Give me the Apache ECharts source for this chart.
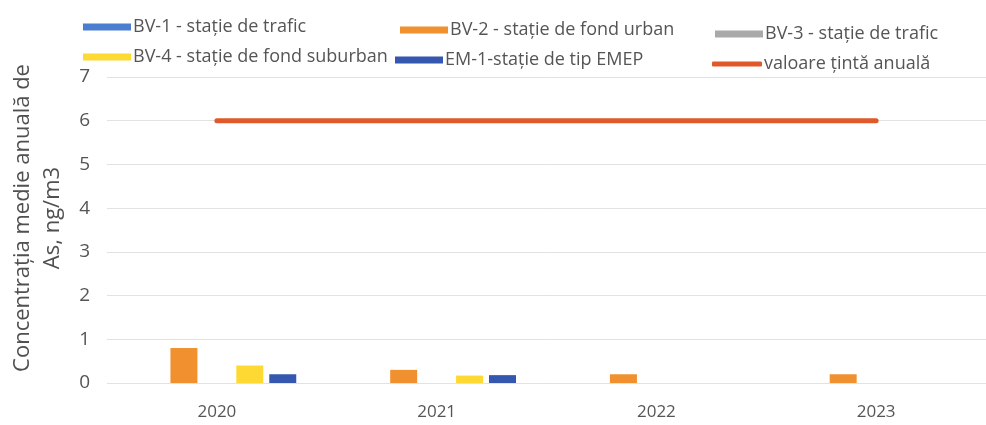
<!DOCTYPE html>
<html>
<head>
<meta charset="utf-8">
<script src="https://cdn.jsdelivr.net/npm/echarts@6/dist/echarts.min.js"></script>
<style>
  html, body { margin: 0; padding: 0; background: #fff; }
  #chart { width: 986px; height: 425px; }
</style>
</head>
<body>
<div id="chart"></div>
<script>
const years = ['2020', '2021', '2022', '2023']
const bv1 = [null, null, null, null]
const bv2 = [0.8, 0.3, 0.2, 0.2]
const bv3 = [null, null, null, null]
const bv4 = [0.4, 0.17, null, null]
const em1 = [0.2, 0.18, null, null]
const target = [6, 6, 6, 6]
const yTicks = [0, 7, 1]

const names = {
  bv1: 'BV-1 - stație de trafic',
  bv2: 'BV-2 - stație de fond urban',
  bv3: 'BV-3 - stație de trafic',
  bv4: 'BV-4 - stație de fond suburban',
  em1: 'EM-1-stație de tip EMEP',
  target: 'valoare țintă anuală',
}

const colors = {
  bv1: '#4a7fd0',
  bv2: '#f0902e',
  bv3: '#a9a9a9',
  bv4: '#ffd933',
  em1: '#3557b0',
  target: '#e0592a',
}

const font = '"Open Sans", sans-serif'
const textColor = '#555555'

const legendAt = (name, left, top, isLine) => ({
  data: [name],
  left,
  top,
  itemWidth: isLine ? 50 : 48,
  itemHeight: isLine ? 5 : 7,
  icon: isLine ? 'roundRect' : 'rect',
  itemGap: 2,
  textStyle: { fontFamily: font, fontSize: 18, color: textColor, padding: [0, 0, 0, -3] },
})

const barSeries = (key, data) => ({
  name: names[key],
  type: 'bar',
  data,
  barWidth: 27,
  barGap: '22%',
  itemStyle: { color: colors[key] },
})

const chart = echarts.init(document.getElementById('chart'))
chart.setOption({
  animation: false,
  legend: [
    legendAt(names.bv1, 78, 13),
    legendAt(names.bv2, 395, 16),
    legendAt(names.bv3, 710, 20),
    legendAt(names.bv4, 78, 43),
    legendAt(names.em1, 390, 46),
    legendAt(names.target, 707, 50, true),
  ],
  grid: { left: 107, right: 0, top: 77, bottom: 42 },
  xAxis: {
    type: 'category',
    data: years,
    axisLine: { show: false },
    axisTick: { show: false },
    axisLabel: { fontFamily: font, fontSize: 17, color: textColor, margin: 21 },
  },
  yAxis: {
    type: 'value',
    min: yTicks[0],
    max: yTicks[1],
    interval: yTicks[2],
    axisLabel: { fontFamily: font, fontSize: 19, color: textColor, margin: 17 },
    splitLine: { lineStyle: { color: '#e2e2e2', width: 1 } },
  },
  graphic: [
    {
      type: 'text',
      x: 38,
      y: 218,
      rotation: Math.PI / 2,
      style: {
        text: 'Concentrația medie anuală de\nAs, ng/m3',
        fontFamily: font,
        fontSize: 22,
        lineHeight: 30,
        fill: '#505050',
        align: 'center',
        verticalAlign: 'middle',
      },
    },
  ],
  series: [
    barSeries('bv1', bv1),
    barSeries('bv2', bv2),
    barSeries('bv3', bv3),
    barSeries('bv4', bv4),
    barSeries('em1', em1),
    {
      name: names.target,
      type: 'line',
      data: target,
      symbol: 'none',
      color: colors.target,
      lineStyle: { color: colors.target, width: 5, cap: 'round' },
      itemStyle: { color: colors.target },
    },
  ],
})
</script>
</body>
</html>
